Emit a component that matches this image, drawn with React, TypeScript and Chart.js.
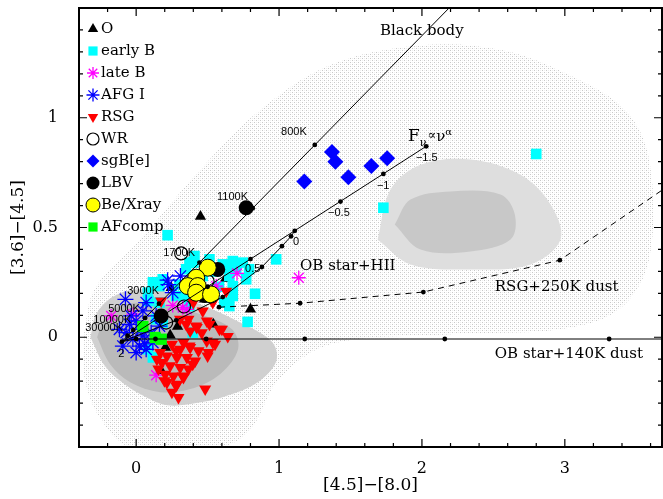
import React, { useEffect, useRef } from "react";
import { Chart, registerables } from "chart.js";
Chart.register(...registerables);

type P = [number, number];

// ---- axes ----
const X_MIN = -0.4;
const X_MAX = 3.68;
const Y_MIN = -0.5;
const Y_MAX = 1.5;
const xMajorTicks = [0, 1, 2, 3];
const yMajorTicks = [0, 0.5, 1];
const xMinorStep = 0.2;
const yMinorStep = 0.1;

// ---- star classes ----
const oStars: P[] = [[0.45, 0.55], [0.625, 0.267], [0.8, 0.127], [0.245, 0.226], [0.478, 0.173], [0.29, 0.049], [0.238, 0.009], [0.205, -0.047], [0.175, -0.153], [0.54, 0.059]];
const earlyB: P[] = [
  [0.22, 0.465], [2.8, 0.835], [1.73, 0.59], [0.98, 0.355], [0.832, 0.198], [0.78, 0.07],
  [0.4, 0.34], [0.676, 0.347], [0.746, 0.34], [0.7, 0.31], [0.606, 0.332], [0.35, 0.31],
  [0.117, 0.249], [0.163, 0.233], [0.186, 0.264], [0.082, 0.203], [0.163, 0.158], [0.28, 0.188],
  [0.373, 0.142], [0.35, 0.188], [0.652, 0.142], [0.617, 0.158], [0.676, 0.188], [0.676, 0.233],
  [0.652, 0.279], [0.77, 0.264], [0.79, 0.31], [0.513, 0.355], [0.466, 0.279], [0.14, 0.082],
  [0.186, 0.067], [0.117, -0.092], [0.082, -0.055], [0.396, 0.021], [0.373, 0.34], [0.408, 0.37],
  [0.634, 0.317], [0.12, 0.25], [0.086, 0.165], [0.55, 0.3], [0.3, 0.24], [0.58, 0.23],
];
const lateB: P[] = [[1.138, 0.271], [0.706, 0.291], [0.14, -0.173], [-0.175, 0.097], [0.256, 0.145], [0.56, 0.233], [0.326, 0.135], [-0.02, 0.105], [0.355, 0.127]];
const afgI: P[] = [
  [-0.075, 0.173], [0.22, 0.26], [0.31, 0.279], [0.256, 0.203], [0.047, 0.12], [0.07, 0.158],
  [-0.117, 0.036], [-0.07, 0.021], [-0.023, -0.009], [0.023, -0.04], [0.07, -0.055], [0.117, -0.024],
  [-0.047, 0.059], [0.0, 0.074], [0.035, 0.036], [0.105, 0.021], [-0.093, -0.04], [0.047, 0.006],
  [0.163, 0.051], [-0.035, 0.097], [0.14, 0.097], [0.226, 0.24], [0.0, -0.07], [0.06, -0.03],
];
const rsg: P[] = [
  [0.63, 0.21], [0.536, 0.158], [0.466, 0.12], [0.42, 0.051], [0.513, 0.059], [0.583, 0.036], [0.641, 0.003],
  [0.35, 0.059], [0.175, 0.165], [0.4, 0.158], [0.307, 0.082], [0.366, 0.082], [0.494, 0.074], [0.424, 0.044],
  [0.378, 0.029], [0.459, 0.021], [0.6, 0.036], [0.331, -0.024], [0.25, -0.032], [0.308, -0.055],
  [0.378, -0.047], [0.436, -0.062], [0.506, -0.07], [0.215, -0.085], [0.285, -0.092], [0.355, -0.092],
  [0.413, -0.108], [0.168, -0.07], [0.18, -0.115], [0.238, -0.13], [0.308, -0.138], [0.366, -0.145],
  [0.203, -0.168], [0.261, -0.176], [0.331, -0.183], [0.215, -0.206], [0.285, -0.214], [0.483, -0.236],
  [0.296, -0.274], [0.156, -0.145], [0.145, -0.1], [0.494, -0.017], [0.552, -0.032], [0.28, -0.062],
  [0.373, -0.04], [0.5, -0.085], [0.536, -0.024], [0.198, -0.198], [0.28, -0.221], [0.326, -0.176],
  [0.396, -0.123], [0.25, -0.25],
];
const wr: P[] = [[0.315, 0.382], [0.335, 0.14], [0.5, 0.256], [0.21, 0.067]];
const sgBe: P[] = [[1.177, 0.71], [1.37, 0.844], [1.394, 0.8], [1.485, 0.729], [1.646, 0.78], [1.757, 0.815]];
const lbv: P[] = [[0.77, 0.59], [0.571, 0.309], [0.175, 0.097], [0.48, 0.19]];
const beXray: P[] = [[0.501, 0.317], [0.42, 0.271], [0.361, 0.233], [0.431, 0.233], [0.42, 0.203], [0.524, 0.195]];
const afComp: P[] = [[0.047, 0.049], [0.133, -0.001], [0.175, -0.009]];

// ---- model tracks ----
const blackBodyLine: P[] = [[-0.1, -0.02], [2.19, 1.5]];
const blackBodyTemps: P[] = [[-0.06, 0.007], [-0.02, 0.033], [0.063, 0.088], [0.16, 0.153], [0.443, 0.34], [0.816, 0.588], [1.25, 0.876]];
const powerLawLine: P[] = [[-0.1, -0.02], [2.03, 0.87]];
const powerLawDots: P[] = [[-0.1, -0.02], [0.2, 0.105], [0.5, 0.23], [0.8, 0.356], [1.11, 0.485], [1.43, 0.618], [1.73, 0.744], [2.03, 0.87]];
const hiiLine: P[] = [[-0.1, -0.02], [0.28, 0.077], [0.606, 0.183], [0.88, 0.32], [1.02, 0.415], [1.084, 0.46], [1.11, 0.485]];
const hiiDots: P[] = [[0.28, 0.077], [0.606, 0.183], [0.88, 0.32], [1.02, 0.415], [1.084, 0.46]];
const rsgDustLine: P[] = [[0.58, 0.137], [1.147, 0.155], [2.01, 0.206], [2.965, 0.351], [3.68, 0.67]];
const rsgDustDots: P[] = [[0.58, 0.137], [1.147, 0.155], [2.01, 0.206], [2.965, 0.351]];
const dust140Line: P[] = [[-0.1, -0.02], [0, -0.008], [3.68, -0.008]];
const dust140Dots: P[] = [[0, -0.008], [0.135, -0.008], [0.49, -0.008], [1.18, -0.008], [2.16, -0.008], [3.31, -0.008]];

// ---- density contours (background) ----
const densityOuter: P[] = [
  [-0.37, 0], [-0.29, 0.22], [0.03, 0.445], [0.45, 0.764], [0.87, 1.036], [1.36, 1.24], [1.99, 1.33], [2.55, 1.31],
  [3.03, 1.195], [3.42, 1.036], [3.59, 0.81], [3.59, 0.355], [3.38, 0.127], [2.97, 0.036], [2.2, 0.014],
  [1.36, -0.032], [1.0, -0.19], [0.8, -0.42], [0.59, -0.5], [-0.04, -0.5], [-0.25, -0.37], [-0.36, -0.19],
];
const densityRightMid: P[] = [[1.69, 0.445], [1.78, 0.673], [1.99, 0.786], [2.34, 0.81], [2.69, 0.74], [2.9, 0.605], [2.97, 0.445], [2.76, 0.332], [2.34, 0.309], [1.92, 0.332]];
const densityRightCore: P[] = [[1.81, 0.514], [1.92, 0.627], [2.2, 0.664], [2.55, 0.65], [2.65, 0.559], [2.62, 0.445], [2.34, 0.391], [1.99, 0.4]];
const densityLeftMid: P[] = [[-0.32, 0], [-0.28, 0.105], [-0.17, 0.182], [-0.007, 0.218], [0.203, 0.209], [0.448, 0.15], [0.72, 0.07], [0.95, -0.02], [0.98, -0.11], [0.84, -0.21], [0.62, -0.27], [0.42, -0.3], [0.22, -0.31], [0.06, -0.27], [-0.09, -0.21], [-0.22, -0.13]];
const densityLeftCore: P[] = [[-0.273, 0], [-0.217, 0.091], [-0.077, 0.15], [0.168, 0.15], [0.448, 0.105], [0.671, 0.036], [0.713, -0.055], [0.587, -0.168], [0.378, -0.236], [0.168, -0.25], [-0.042, -0.205], [-0.182, -0.123]];

// ---- labels ----
const tempLabels: [string, number, number][] = [["800K", 1.014, 0.936], ["1100K", 0.566, 0.641], ["1700K", 0.189, 0.386], ["3000K", -0.063, 0.209], ["5000K", -0.196, 0.127], ["10000K", -0.3, 0.077], ["30000K", -0.357, 0.041]];
const alphaLabels: [string, number, number][] = [["2", -0.125, -0.077], ["0.5", 0.762, 0.309], ["0", 1.098, 0.436], ["\u22120.5", 1.343, 0.564], ["\u22121", 1.685, 0.69], ["\u22121.5", 1.958, 0.818]];
const trackLabels: [string, number, number][] = [["Black body", 1.706, 1.395], ["OB star+HII", 1.147, 0.323], ["RSG+250K dust", 2.51, 0.227], ["OB star+140K dust", 2.51, -0.077]];

const SERIF = "'DejaVu Serif', serif";
const SANS = "'Liberation Sans', Arial, sans-serif";

const pts = (a: P[]) => a.map(([x, y]) => ({ x, y }));

interface Cls { label: string; data: P[]; style: string; rot: number; fill: string; stroke: string; bw: number; r: number; lr: number; }
const classes: Cls[] = [
  { label: "O", data: oStars, style: "triangle", rot: 0, fill: "#000", stroke: "#000", bw: 0, r: 6.5, lr: 6 },
  { label: "early B", data: earlyB, style: "rect", rot: 0, fill: "#00ffff", stroke: "#00ffff", bw: 0, r: 7.5, lr: 6.5 },
  { label: "late B", data: lateB, style: "star", rot: 0, fill: "#ff00ff", stroke: "#ff00ff", bw: 1.3, r: 7, lr: 6 },
  { label: "AFG I", data: afgI, style: "star", rot: 0, fill: "#0000ff", stroke: "#0000ff", bw: 1.3, r: 8, lr: 6.5 },
  { label: "RSG", data: rsg, style: "triangle", rot: 180, fill: "#ff0000", stroke: "#ff0000", bw: 0, r: 7, lr: 6 },
  { label: "WR", data: wr, style: "circle", rot: 0, fill: "rgba(255,255,255,0)", stroke: "#000", bw: 1.2, r: 6.5, lr: 6 },
  { label: "sgB[e]", data: sgBe, style: "rectRot", rot: 0, fill: "#0000ff", stroke: "#0000ff", bw: 0, r: 8, lr: 6.5 },
  { label: "LBV", data: lbv, style: "circle", rot: 0, fill: "#000", stroke: "#000", bw: 0, r: 7.5, lr: 6.5 },
  { label: "Be/Xray", data: beXray, style: "circle", rot: 0, fill: "#ffff00", stroke: "#000", bw: 1, r: 8.5, lr: 7 },
  { label: "AFcomp", data: afComp, style: "rect", rot: 0, fill: "#00ff00", stroke: "#00ff00", bw: 0, r: 8, lr: 6.5 },
];

function drawMarker(ctx: CanvasRenderingContext2D, c: Cls, x: number, y: number, r: number) {
  ctx.save();
  ctx.fillStyle = c.fill;
  ctx.strokeStyle = c.stroke;
  ctx.lineWidth = c.bw || 1;
  ctx.beginPath();
  if (c.style === "triangle") {
    const s = c.rot === 180 ? -1 : 1;
    for (let i = 0; i < 3; i++) {
      const a = (i * 2 * Math.PI) / 3;
      const px = x + Math.sin(a) * r;
      const py = y - s * Math.cos(a) * r;
      if (i === 0) ctx.moveTo(px, py); else ctx.lineTo(px, py);
    }
    ctx.closePath();
    ctx.fill();
  } else if (c.style === "rect") {
    const h = r / Math.SQRT2;
    ctx.rect(x - h, y - h, 2 * h, 2 * h);
    ctx.fill();
  } else if (c.style === "rectRot") {
    ctx.moveTo(x, y - r); ctx.lineTo(x + r, y); ctx.lineTo(x, y + r); ctx.lineTo(x - r, y); ctx.closePath();
    ctx.fill();
  } else if (c.style === "circle") {
    ctx.arc(x, y, r, 0, Math.PI * 2);
    ctx.fill();
    if (c.bw > 0) ctx.stroke();
  } else if (c.style === "star") {
    for (let i = 0; i < 4; i++) {
      const a = (i * Math.PI) / 4;
      ctx.moveTo(x + Math.cos(a) * r, y + Math.sin(a) * r);
      ctx.lineTo(x - Math.cos(a) * r, y - Math.sin(a) * r);
    }
    ctx.stroke();
  }
  ctx.restore();
}

const framePlugin = {
  id: "frameTicks",
  afterDatasetsDraw(chart: any) {
    const { ctx, chartArea: a, scales } = chart;
    const xs = scales.x, ys = scales.y;
    ctx.save();
    // track labels
    ctx.fillStyle = "#000";
    ctx.textBaseline = "middle";
    ctx.textAlign = "left";
    ctx.font = `15px ${SERIF}`;
    trackLabels.forEach(([t, x, y]) => ctx.fillText(t, xs.getPixelForValue(x), ys.getPixelForValue(y)));
    ctx.font = `11px ${SANS}`;
    tempLabels.forEach(([t, x, y]) => ctx.fillText(t, xs.getPixelForValue(x), ys.getPixelForValue(y)));
    alphaLabels.forEach(([t, x, y]) => ctx.fillText(t, xs.getPixelForValue(x), ys.getPixelForValue(y)));
    // F_nu ∝ nu^alpha
    let fx = xs.getPixelForValue(1.902);
    const fy = ys.getPixelForValue(0.895);
    ctx.textBaseline = "alphabetic";
    ctx.font = `17px ${SERIF}`;
    ctx.fillText("F", fx, fy);
    fx += ctx.measureText("F").width;
    ctx.font = `11px ${SERIF}`;
    ctx.fillText("\u03BD", fx, fy + 5);
    fx += ctx.measureText("\u03BD").width + 1;
    ctx.font = `13px ${SERIF}`;
    ctx.fillText("\u221D", fx, fy - 2);
    fx += ctx.measureText("\u221D").width;
    ctx.font = `15px ${SERIF}`;
    ctx.fillText("\u03BD", fx, fy);
    fx += ctx.measureText("\u03BD").width;
    ctx.font = `10px ${SERIF}`;
    ctx.fillText("\u03B1", fx, fy - 6);

    // legend
    ctx.textBaseline = "middle";
    ctx.font = `15px ${SERIF}`;
    classes.forEach((c, i) => {
      const y = a.top + 21 + i * 22;
      drawMarker(ctx, c, a.left + 14, y, c.lr);
      ctx.fillStyle = "#000";
      ctx.fillText(c.label, a.left + 22, y);
    });

    // frame + inward ticks
    ctx.strokeStyle = "#000";
    ctx.lineWidth = 1.2;
    ctx.beginPath();
    const nx = Math.round((X_MAX - X_MIN) / xMinorStep);
    for (let i = 0; i <= nx + 1; i++) {
      const v = Math.round((X_MIN + i * xMinorStep) * 1000) / 1000;
      if (v < X_MIN - 1e-9 || v > X_MAX + 1e-9) continue;
      const px = xs.getPixelForValue(v);
      const len = xMajorTicks.some((m) => Math.abs(m - v) < 1e-6) ? 8 : 4;
      ctx.moveTo(px, a.bottom); ctx.lineTo(px, a.bottom - len);
      ctx.moveTo(px, a.top); ctx.lineTo(px, a.top + len);
    }
    const ny = Math.round((Y_MAX - Y_MIN) / yMinorStep);
    for (let i = 0; i <= ny; i++) {
      const v = Math.round((Y_MIN + i * yMinorStep) * 1000) / 1000;
      const py = ys.getPixelForValue(v);
      const len = Math.abs(v * 2 - Math.round(v * 2)) < 1e-6 ? 8 : 4;
      ctx.moveTo(a.left, py); ctx.lineTo(a.left + len, py);
      ctx.moveTo(a.right, py); ctx.lineTo(a.right - len, py);
    }
    ctx.stroke();
    ctx.lineWidth = 2;
    ctx.strokeRect(a.left, a.top, a.right - a.left, a.bottom - a.top);
    ctx.restore();
  },
};

function stipple(): CanvasPattern | string {
  const c = document.createElement("canvas");
  c.width = 4; c.height = 4;
  const g = c.getContext("2d");
  if (!g) return "#f0f0f0";
  g.fillStyle = "#c8c8c8";
  g.fillRect(0, 0, 1, 1);
  g.fillRect(2, 2, 1, 1);
  g.fillStyle = "#eeeeee";
  g.fillRect(2, 0, 1, 1);
  g.fillRect(0, 2, 1, 1);
  return g.createPattern(c, "repeat") || "#f0f0f0";
}

function region(data: P[], color: any, order: number) {
  const d = pts(data);
  d.push({ ...d[0] });
  return { data: d, showLine: true, fill: "shape", backgroundColor: color, borderWidth: 0, borderColor: "rgba(0,0,0,0)", pointRadius: 0, tension: 0.35, order };
}
function line(data: P[], dashed = false) {
  return { data: pts(data), showLine: true, fill: false, borderColor: "#000", borderWidth: 1, borderDash: dashed ? [6, 5] : [], pointRadius: 0, order: 1 };
}
function dots(data: P[]) {
  return { data: pts(data), showLine: false, backgroundColor: "#000", borderWidth: 0, pointRadius: 2.4, order: 0 };
}

export default function App() {
  const ref = useRef<HTMLCanvasElement>(null);
  useEffect(() => {
    document.body.style.margin = "0";
    const ctx = ref.current!.getContext("2d")!;
    const datasets: any[] = [
      region(densityOuter, stipple(), 30),
      region(densityRightMid, "#dedede", 29),
      region(densityRightCore, "#c8c8c8", 28),
      region(densityLeftMid, "#d0d0d0", 29),
      region(densityLeftCore, "#bababa", 28),
      ...classes.map((c, i) => ({
        label: c.label,
        data: pts(c.data),
        pointStyle: c.style,
        rotation: c.rot,
        backgroundColor: c.fill,
        borderColor: c.stroke,
        borderWidth: c.bw,
        pointRadius: c.r,
        order: 20 - i,
      })),
      line(blackBodyLine),
      line(powerLawLine),
      line(hiiLine),
      line(rsgDustLine, true),
      line(dust140Line),
      dots(blackBodyTemps),
      dots(powerLawDots),
      dots(hiiDots),
      dots(rsgDustDots),
      dots(dust140Dots),
    ];
    const chart = new Chart(ctx, {
      type: "scatter",
      data: { datasets },
      options: {
        animation: false,
        responsive: false,
        events: [],
        layout: { autoPadding: false, padding: { top: 8, right: 1, left: 0, bottom: 0 } },
        plugins: { legend: { display: false }, tooltip: { enabled: false } },
        scales: {
          x: {
            type: "linear",
            min: X_MIN,
            max: X_MAX,
            grid: { display: false },
            border: { display: false },
            afterBuildTicks: (s: any) => { s.ticks = xMajorTicks.map((v) => ({ value: v })); },
            afterFit: (s: any) => { s.height = 52; s.paddingLeft = 0; s.paddingRight = 0; s.paddingTop = 0; s.paddingBottom = 0; },
            ticks: { color: "#000", font: { family: SERIF, size: 16 }, padding: 4, maxRotation: 0, callback: (v: any) => String(v) },
            title: { display: true, text: "[4.5]\u2212[8.0]", color: "#000", font: { family: SERIF, size: 17 }, padding: { top: 0, bottom: 3 } },
          },
          y: {
            type: "linear",
            min: Y_MIN,
            max: Y_MAX,
            grid: { display: false },
            border: { display: false },
            afterBuildTicks: (s: any) => { s.ticks = yMajorTicks.map((v) => ({ value: v })); },
            afterFit: (s: any) => { s.width = 79; s.paddingLeft = 0; s.paddingRight = 0; s.paddingTop = 0; s.paddingBottom = 0; },
            ticks: { color: "#000", font: { family: SERIF, size: 16 }, padding: 13, callback: (v: any) => String(v) },
            title: { display: true, text: "[3.6]\u2212[4.5]", color: "#000", font: { family: SERIF, size: 17 }, padding: { top: 8, bottom: 0 } },
          },
        },
      },
      plugins: [framePlugin],
    } as any);
    return () => chart.destroy();
  }, []);
  return (
    <div style={{ width: 663, height: 499 }}>
      <canvas ref={ref} width={663} height={499} style={{ display: "block" }} />
    </div>
  );
}
